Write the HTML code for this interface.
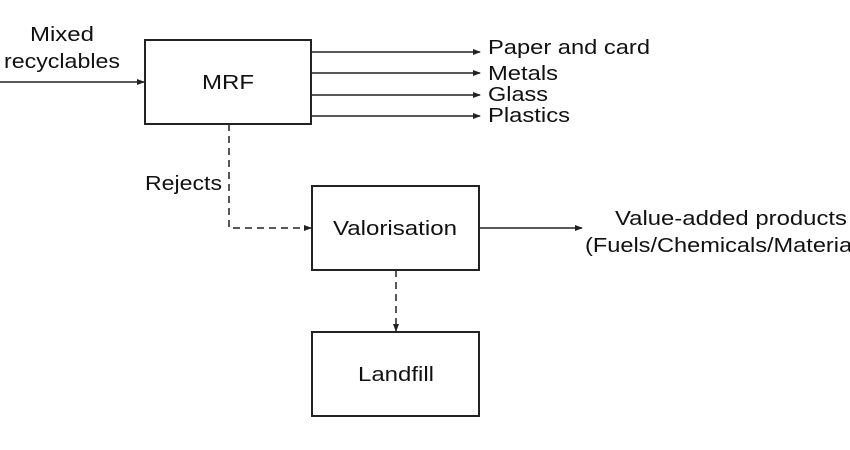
<!DOCTYPE html>
<html><head><style>
html,body{margin:0;padding:0;background:#fff;width:850px;height:450px;overflow:hidden}
svg{display:block}
text{font-family:"Liberation Sans",Arial,sans-serif;font-size:20px;fill:#111}
</style></head><body>
<svg width="850" height="450" viewBox="0 0 850 450">
<defs><marker id="a" markerWidth="8" markerHeight="8" refX="7" refY="4" orient="auto" markerUnits="userSpaceOnUse"><path d="M0,1 L8,4 L0,7 z" fill="#222"/></marker></defs>
<g stroke="#222" fill="none">
<rect x="145" y="40" width="166" height="84" stroke-width="2"/>
<rect x="312" y="186" width="167" height="84" stroke-width="2"/>
<rect x="312" y="332" width="167" height="84" stroke-width="2"/>
<line x1="0" y1="82" x2="144" y2="82" stroke-width="1.5" marker-end="url(#a)"/>
<line x1="311" y1="52" x2="480" y2="52" stroke-width="1.5" marker-end="url(#a)"/>
<line x1="311" y1="73" x2="480" y2="73" stroke-width="1.5" marker-end="url(#a)"/>
<line x1="311" y1="95" x2="480" y2="95" stroke-width="1.5" marker-end="url(#a)"/>
<line x1="311" y1="116" x2="480" y2="116" stroke-width="1.5" marker-end="url(#a)"/>
<path d="M229,124 V228 H311" stroke-width="1.5" stroke-dasharray="7,5" marker-end="url(#a)"/>
<line x1="479" y1="228" x2="582" y2="228" stroke-width="1.5" marker-end="url(#a)"/>
<line x1="396" y1="270" x2="396" y2="331" stroke-width="1.5" stroke-dasharray="7,5" marker-end="url(#a)"/>
</g>
<text x="30" y="41" textLength="64" lengthAdjust="spacingAndGlyphs">Mixed</text>
<text x="4" y="68" textLength="116" lengthAdjust="spacingAndGlyphs">recyclables</text>
<text x="202" y="89" textLength="52" lengthAdjust="spacingAndGlyphs">MRF</text>
<text x="488" y="54" textLength="162" lengthAdjust="spacingAndGlyphs">Paper and card</text>
<text x="488" y="80" textLength="70" lengthAdjust="spacingAndGlyphs">Metals</text>
<text x="488" y="101" textLength="60" lengthAdjust="spacingAndGlyphs">Glass</text>
<text x="488" y="122" textLength="82" lengthAdjust="spacingAndGlyphs">Plastics</text>
<text x="145" y="190" textLength="77" lengthAdjust="spacingAndGlyphs">Rejects</text>
<text x="333" y="235" textLength="124" lengthAdjust="spacingAndGlyphs">Valorisation</text>
<text x="615" y="225" textLength="232" lengthAdjust="spacingAndGlyphs">Value-added products</text>
<text x="585" y="252" textLength="292" lengthAdjust="spacingAndGlyphs">(Fuels/Chemicals/Materials)</text>
<text x="358" y="381" textLength="76" lengthAdjust="spacingAndGlyphs">Landfill</text>
</svg>
</body></html>
